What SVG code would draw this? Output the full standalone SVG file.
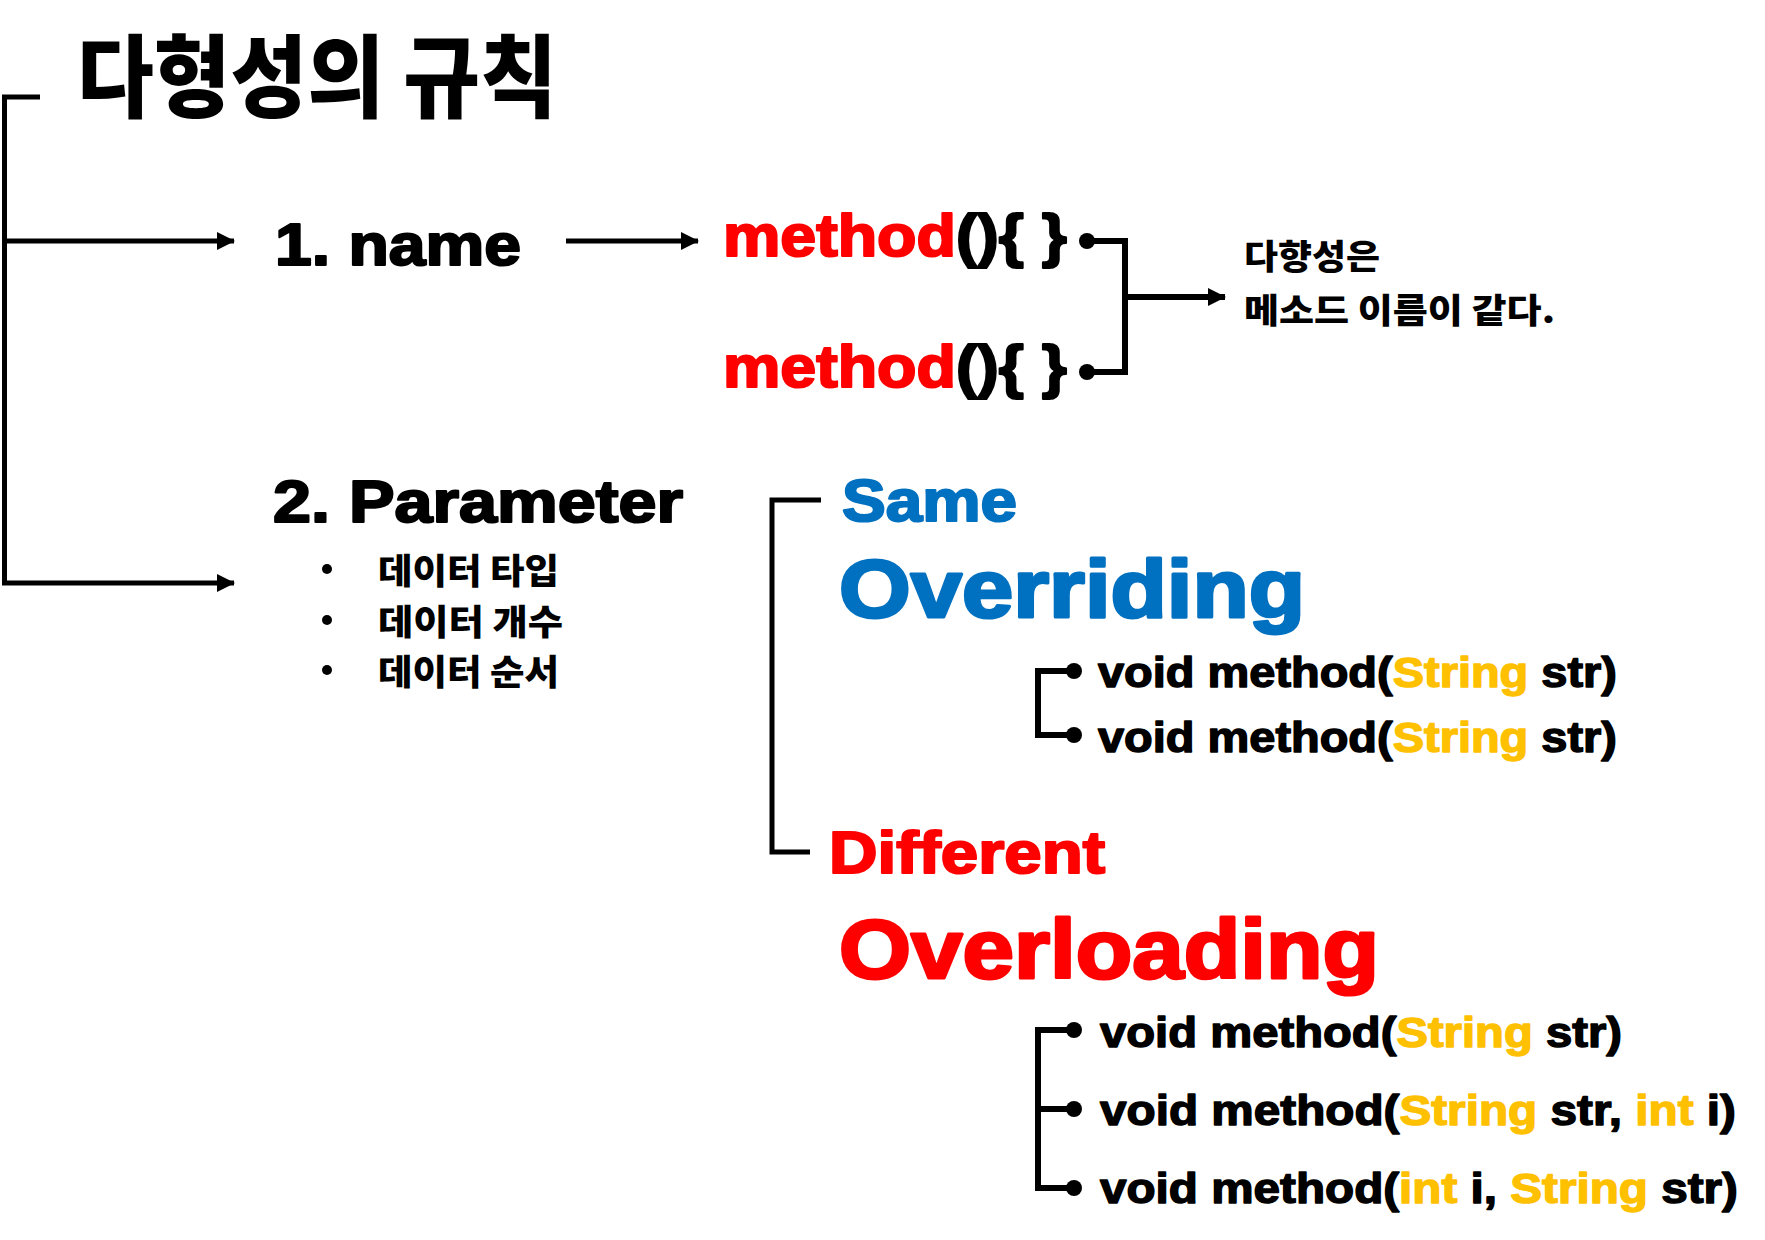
<svg xmlns="http://www.w3.org/2000/svg" width="1765" height="1240" viewBox="0 0 1765 1240">
<style>
.en{font-family:"Liberation Sans",Arial,sans-serif;font-weight:700;stroke-linejoin:round;}
.ko{font-family:"Noto Sans CJK KR","Noto Sans",sans-serif;font-weight:900;fill:#000;}
.s1{stroke-width:1.4;}
.s2{stroke-width:2.2;}
.s3{stroke-width:3;}
.red{fill:#FF0000;stroke:#FF0000;}
.blue{fill:#0070C0;stroke:#0070C0;}
.yel{fill:#FFC000;stroke:#FFC000;}
.blk{fill:#000;stroke:#000;}
.ln{fill:none;stroke:#000;stroke-width:5;}
.ln6{fill:none;stroke:#000;stroke-width:6;}
.dot{fill:#000;}
</style>
<defs>
<marker id="ah" markerUnits="userSpaceOnUse" markerWidth="18" markerHeight="18" refX="17" refY="9" orient="auto">
<path d="M0,0 L18,9 L0,18 z" fill="#000"/>
</marker>
</defs>
<rect width="1765" height="1240" fill="#fff"/>

<g id="connectors">
<path class="ln" d="M40,97 H4.5 V583 H234" marker-end="url(#ah)"/>
<path class="ln" d="M4.5,241 H234" marker-end="url(#ah)"/>
<path class="ln" d="M566,241 H698" marker-end="url(#ah)"/>
<path class="ln6" d="M1087,241 H1125 V372 H1087"/>
<path class="ln6" d="M1125,297 H1225" marker-end="url(#ah)"/>
<circle class="dot" cx="1087" cy="241" r="8"/>
<circle class="dot" cx="1087" cy="372" r="8"/>
<path class="ln" d="M821,500 H772 V852 H810"/>
<path class="ln6" d="M1074,671 H1038 V735 H1074"/>
<circle class="dot" cx="1074" cy="671" r="8"/>
<circle class="dot" cx="1074" cy="735" r="8"/>
<path class="ln6" d="M1074,1030 H1038 V1188 H1074 M1038,1109 H1074"/>
<circle class="dot" cx="1074" cy="1030" r="8"/>
<circle class="dot" cx="1074" cy="1109" r="8"/>
<circle class="dot" cx="1074" cy="1188" r="8"/>
</g>

<g id="title">
<text class="ko" x="77" y="110" font-size="90" textLength="480" lengthAdjust="spacingAndGlyphs">다형성의 규칙</text>
</g>

<g id="name">
<text class="en blk s2" x="275" y="265" font-size="60" textLength="246" lengthAdjust="spacingAndGlyphs">1. name</text>
</g>

<g id="method1">
<text class="en blk s2" x="723" y="256" font-size="60" textLength="344" lengthAdjust="spacingAndGlyphs"><tspan class="red">method</tspan>(){ }</text>
</g>
<g id="method2">
<text class="en blk s2" x="723" y="387" font-size="60" textLength="344" lengthAdjust="spacingAndGlyphs"><tspan class="red">method</tspan>(){ }</text>
</g>

<g id="note">
<text class="ko" x="1244" y="269" font-size="34" textLength="136" lengthAdjust="spacingAndGlyphs">다향성은</text>
<text class="ko" x="1244" y="323" font-size="34" textLength="311" lengthAdjust="spacingAndGlyphs">메소드 이름이 같다.</text>
</g>

<g id="parameter">
<text class="en blk s2" x="273" y="522" font-size="60" textLength="410" lengthAdjust="spacingAndGlyphs">2. Parameter</text>
<circle class="dot" cx="327" cy="569" r="5"/>
<circle class="dot" cx="327" cy="620" r="5"/>
<circle class="dot" cx="327" cy="670" r="5"/>
<text class="ko" x="378" y="584" font-size="35" textLength="181" lengthAdjust="spacingAndGlyphs">데이터 타입</text>
<text class="ko" x="378" y="635" font-size="35" textLength="185" lengthAdjust="spacingAndGlyphs">데이터 개수</text>
<text class="ko" x="378" y="685" font-size="35" textLength="181" lengthAdjust="spacingAndGlyphs">데이터 순서</text>
</g>

<g id="same">
<text class="en blue s2" x="842" y="521" font-size="60" textLength="175" lengthAdjust="spacingAndGlyphs">Same</text>
<text class="en blue s3" x="839" y="617" font-size="81" textLength="466" lengthAdjust="spacingAndGlyphs">Overriding</text>
</g>
<g id="overriding-methods">
<text class="en blk s1" x="1098" y="687" font-size="42" textLength="519" lengthAdjust="spacingAndGlyphs">void method(<tspan class="yel">String</tspan> str)</text>
<text class="en blk s1" x="1098" y="752" font-size="42" textLength="519" lengthAdjust="spacingAndGlyphs">void method(<tspan class="yel">String</tspan> str)</text>
</g>

<g id="different">
<text class="en red s2" x="829" y="873" font-size="59" textLength="276" lengthAdjust="spacingAndGlyphs">Different</text>
<text class="en red s3" x="839" y="978" font-size="83" textLength="540" lengthAdjust="spacingAndGlyphs">Overloading</text>
</g>
<g id="overloading-methods">
<text class="en blk s1" x="1100" y="1047" font-size="42" textLength="522" lengthAdjust="spacingAndGlyphs">void method(<tspan class="yel">String</tspan> str)</text>
<text class="en blk s1" x="1100" y="1125" font-size="42" textLength="636" lengthAdjust="spacingAndGlyphs">void method(<tspan class="yel">String</tspan> str, <tspan class="yel">int</tspan> i)</text>
<text class="en blk s1" x="1100" y="1203" font-size="42" textLength="638" lengthAdjust="spacingAndGlyphs">void method(<tspan class="yel">int</tspan> i, <tspan class="yel">String</tspan> str)</text>
</g>
</svg>
